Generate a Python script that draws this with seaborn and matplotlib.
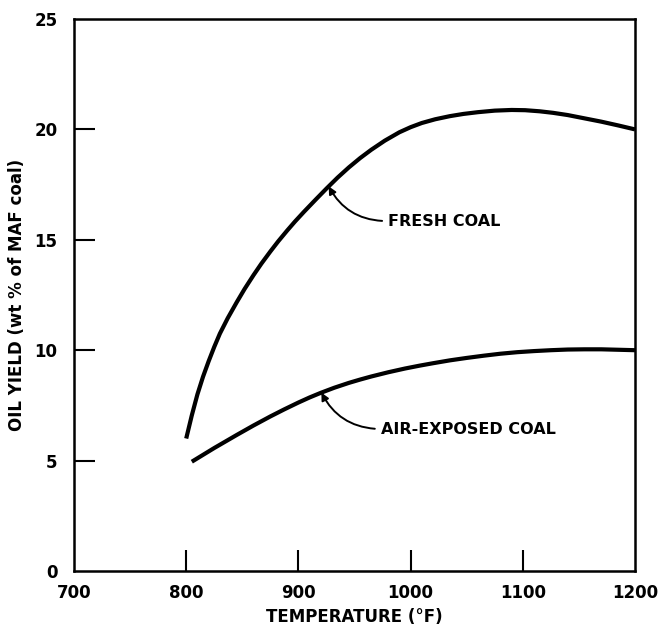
import matplotlib
matplotlib.use("Agg")
import matplotlib.pyplot as plt
import seaborn as sns
import pandas as pd

# Oil yield vs. pyrolysis temperature
fresh_temp = [800, 805, 810, 815, 820, 825, 830, 837, 845, 852, 860, 867, 875, 882, 890, 897,
              905, 915, 925, 935, 945, 955, 965, 977, 990, 1000, 1010, 1022, 1035, 1047, 1060,
              1075, 1090, 1102, 1115, 1127, 1140, 1155, 1170, 1185, 1200]
fresh_yield = [6.0, 7.05, 8.0, 8.8, 9.5, 10.15, 10.75, 11.45, 12.17, 12.77, 13.4, 13.92, 14.47,
               14.93, 15.42, 15.83, 16.27, 16.8, 17.32, 17.82, 18.28, 18.7, 19.08, 19.49, 19.87,
               20.1, 20.29, 20.46, 20.6, 20.7, 20.78, 20.85, 20.88, 20.87, 20.82, 20.75, 20.65,
               20.5, 20.35, 20.18, 20.0]

air_temp = [805, 825, 845, 860, 875, 887, 900, 910, 920, 932, 945, 955, 965, 980, 995, 1008,
            1020, 1035, 1050, 1065, 1080, 1095, 1110, 1125, 1140, 1155, 1170, 1185, 1200]
air_yield = [4.95, 5.57, 6.16, 6.59, 7.0, 7.31, 7.63, 7.86, 8.07, 8.3, 8.52, 8.67, 8.81, 9.0,
             9.17, 9.3, 9.41, 9.54, 9.65, 9.75, 9.84, 9.91, 9.96, 10.0, 10.03, 10.04, 10.04,
             10.02, 10.0]

series_names = ["FRESH COAL", "AIR-EXPOSED COAL"]

x_ticks = [700, 800, 900, 1000, 1100, 1200]
y_ticks = [0, 5, 10, 15, 20, 25]

df = pd.concat([
    pd.DataFrame({"temp": fresh_temp, "yield": fresh_yield, "coal": series_names[0]}),
    pd.DataFrame({"temp": air_temp, "yield": air_yield, "coal": series_names[1]}),
])

sns.set_style("white")
plt.rcParams["font.family"] = ["DejaVu Sans"]
plt.rcParams["text.color"] = "black"
plt.rcParams["axes.labelcolor"] = "black"

fig = plt.figure(figsize=(6.61, 6.28), dpi=100)
ax = fig.add_axes([74 / 661, 1 - 571 / 628, (635 - 74) / 661, (571 - 19) / 628])

sns.lineplot(data=df, x="temp", y="yield", hue="coal", units="coal",
             estimator=None, sort=False, palette=["black", "black"],
             linewidth=3.0, legend=False, ax=ax)
for line in ax.get_lines():
    line.set_solid_joinstyle("round")
    line.set_solid_capstyle("butt")

ax.set_xlim(700, 1200)
ax.set_ylim(0, 25)
ax.set_xticks(x_ticks)
ax.set_yticks(y_ticks)
ax.set_xticklabels([str(t) for t in x_ticks], fontsize=12, fontweight="bold")
ax.set_yticklabels([str(t) for t in y_ticks], fontsize=12, fontweight="bold")
ax.tick_params(axis="x", bottom=True, direction="in", length=15, width=1.5, pad=9,
               color="black", labelcolor="black")
ax.tick_params(axis="y", left=True, direction="in", length=15, width=1.5, pad=12,
               color="black", labelcolor="black")

# corner ticks coincide with the frame, so only their labels are kept
for ticks in (ax.xaxis.get_major_ticks(), ax.yaxis.get_major_ticks()):
    ticks[0].tick1line.set_visible(False)
    ticks[-1].tick1line.set_visible(False)

for side in ["left", "right", "top", "bottom"]:
    ax.spines[side].set_visible(True)
    ax.spines[side].set_color("black")
    ax.spines[side].set_linewidth(1.8)

ax.set_xlabel("TEMPERATURE (°F)", fontsize=12, fontweight="bold", labelpad=5, color="black")
ax.set_ylabel("OIL YIELD (wt % of MAF coal)", fontsize=12, fontweight="bold", labelpad=6,
              color="black")

arrow_kw = dict(arrowstyle="-|>", color="black", lw=1.4, mutation_scale=11,
                connectionstyle="arc3,rad=-0.3", relpos=(0.0, 0.5),
                shrinkA=2, shrinkB=0)

ax.annotate(series_names[0], xy=(927, 17.42), xytext=(980, 15.85),
            fontsize=11.5, fontweight="bold", ha="left", va="center", color="black",
            arrowprops=arrow_kw)
ax.annotate(series_names[1], xy=(920.5, 8.08), xytext=(973.5, 6.43),
            fontsize=11.5, fontweight="bold", ha="left", va="center", color="black",
            arrowprops=arrow_kw)

fig.savefig("out.png", dpi=100)
